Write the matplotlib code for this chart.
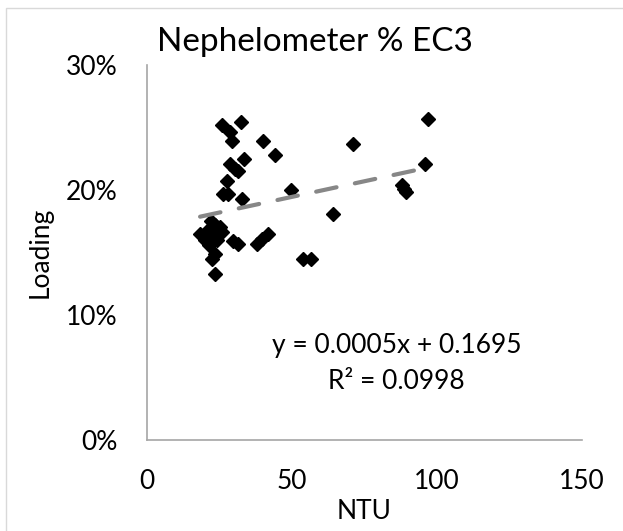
import matplotlib.pyplot as plt
import matplotlib.ticker as mticker
from matplotlib.patches import Rectangle
import numpy as np

plt.rcParams['font.family'] = ['Lato', 'DejaVu Sans']

# NTU readings and loading fraction
ntu = [25.8, 32.3, 28.6, 29.2, 39.9, 44.2, 28.6, 33.6, 30.3, 31.5, 27.5, 26.1, 28.0, 32.8, 49.6,
       18.3, 20.0, 21.0, 22.0, 23.4, 24.0, 22.5, 25.0, 24.0, 21.5, 23.4, 22.3, 23.4, 26.0, 29.6, 31.5,
       38.0, 39.5, 41.8, 53.9, 56.4, 64.0, 71.1, 87.8, 88.5, 89.5, 95.9, 97.0]
loading = [0.252, 0.254, 0.246, 0.239, 0.239, 0.228, 0.221, 0.225, 0.217, 0.215, 0.207, 0.197, 0.197, 0.193, 0.200,
           0.165, 0.160, 0.168, 0.175, 0.172, 0.168, 0.162, 0.170, 0.160, 0.156, 0.149, 0.145, 0.133, 0.166, 0.159, 0.157,
           0.157, 0.161, 0.165, 0.145, 0.145, 0.181, 0.237, 0.204, 0.201, 0.198, 0.221, 0.257]

slope = 0.0005
intercept = 0.1695
r2 = 0.0998

fig = plt.figure(figsize=(6.23, 5.31), dpi=100)
ax = fig.add_axes([0.236, 0.1714, 0.698, 0.7062])

ax.plot(ntu, loading, 'D', color='black', markersize=7, zorder=3)

# linear trendline from the fitted equation
tx = np.array([min(ntu), max(ntu)])
ax.plot(tx, slope * tx + intercept, color='#878787', lw=3, dashes=(5, 4.5),
        solid_capstyle='round', dash_capstyle='round', zorder=4)

ax.set_xlim(0, 150)
ax.set_ylim(0, 0.30)
ax.set_xticks([0, 50, 100, 150])
ax.set_yticks([0, 0.1, 0.2, 0.3])
ax.yaxis.set_major_formatter(mticker.PercentFormatter(1.0, decimals=0))
ax.tick_params(length=0, labelsize=19)
ax.tick_params(axis='x', pad=21)
ax.tick_params(axis='y', pad=21)
for side in ['top', 'right']:
    ax.spines[side].set_visible(False)
for side in ['left', 'bottom']:
    ax.spines[side].set_color('#a6a6a6')
    ax.spines[side].set_linewidth(1.2)

ax.set_xlabel('NTU', fontsize=19, va='center')
ax.xaxis.set_label_coords(0.5, -0.19)
ax.set_ylabel('Loading', fontsize=19, va='center')
ax.yaxis.set_label_coords(-0.245, 0.5)

fig.text(0.505, 0.92, 'Nephelometer % EC3', ha='center', va='center', fontsize=24)
ax.text(86, 0.0615, 'y = %.4fx + %.4f\nR² = %.4f' % (slope, intercept, r2), ha='center', va='center',
        fontsize=19, linespacing=1.55)

fig.patches.append(Rectangle((6 / 623, -0.1), 1.2, 1.1 - 8 / 531, transform=fig.transFigure,
                             fill=False, edgecolor='#d9d9d9', lw=1))

fig.savefig('out.png', dpi=100)
